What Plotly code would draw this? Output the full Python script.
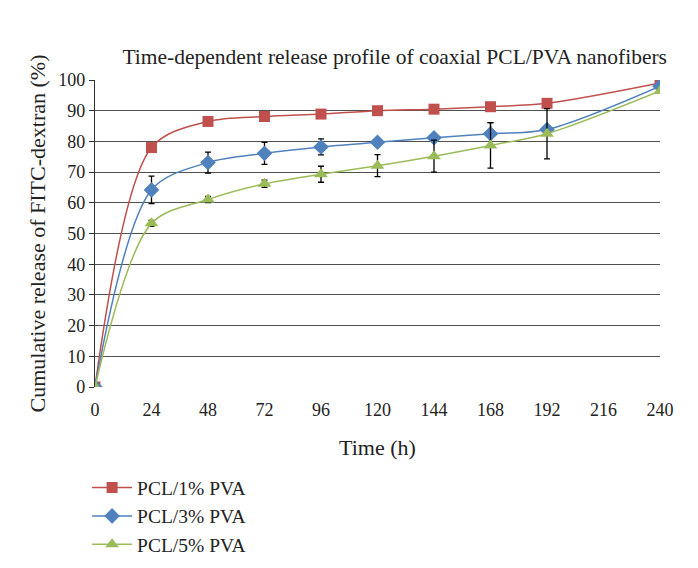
import plotly.graph_objects as go

time_h = [0, 24, 48, 72, 96, 120, 144, 168, 192, 240]
pcl_1 = [0, 78.0, 86.5, 88.1, 88.9, 90.0, 90.5, 91.3, 92.4, 99.0]
pcl_3 = [0, 64.2, 73.1, 76.1, 78.2, 79.7, 81.2, 82.5, 83.9, 98.0]
pcl_5 = [0, 53.3, 61.1, 66.2, 69.3, 72.1, 75.2, 78.7, 82.5, 96.4]
err_1 = [0, 1.2, 1.0, 1.5, 1.0, 0.8, 0.8, 0.8, 0.8, 0.5]
err_3 = [0, 4.5, 3.4, 3.6, 2.6, 1.0, 1.0, 3.6, 1.0, 0.5]
err_5 = [0, 1.0, 1.0, 1.2, 2.6, 3.6, 5.2, 7.4, 8.2, 0.5]
names = ["PCL/1% PVA", "PCL/3% PVA", "PCL/5% PVA"]
x_ticks = [0, 24, 48, 72, 96, 120, 144, 168, 192, 216, 240]

colors = ["#C0504D", "#4F81BD", "#9BBB59"]
symbols = ["square", "diamond", "triangle-up"]
sizes = [11, 12, 12]
FONT = "Liberation Serif"

fig = go.Figure()
for name, ys, errs, col, sym, sz in zip(names, [pcl_1, pcl_3, pcl_5], [err_1, err_3, err_5], colors, symbols, sizes):
    fig.add_trace(go.Scatter(
        x=time_h, y=ys, name=name, mode="lines+markers",
        line=dict(color=col, width=1.5, shape="spline", smoothing=0.9),
        marker=dict(symbol=sym, size=sz, color=col),
        error_y=dict(type="data", array=errs, visible=True, color="black", thickness=1.3, width=3),
        legendgroup=name,
    ))

fig.update_layout(
    width=698, height=568,
    paper_bgcolor="white", plot_bgcolor="white",
    margin=dict(l=87, r=46, t=72, b=184),
    font=dict(family=FONT, size=18, color="#222"),
    title=dict(text="Time-dependent release profile of coaxial PCL/PVA nanofibers",
               x=0.554, xanchor="center", y=1 - 48 / 568, yanchor="middle",
               font=dict(family=FONT, size=21.5, color="#222")),
    showlegend=True,
    legend=dict(x=-0.014, y=-0.265, xanchor="left", yanchor="top",
                font=dict(family=FONT, size=19.5, color="#222"),
                tracegroupgap=0, itemwidth=40, bgcolor="rgba(0,0,0,0)"),
    xaxis=dict(range=[0, 240], tickvals=x_ticks, showgrid=False, zeroline=False,
               showline=False, ticks="", ticklabelstandoff=10,
               title=dict(text="Time (h)", font=dict(family=FONT, size=22), standoff=20)),
    yaxis=dict(range=[0, 100], dtick=10, showgrid=True, gridcolor="#505050", gridwidth=1.4,
               zeroline=False, showline=True, linecolor="#303030", linewidth=1.4,
               ticks="outside", ticklen=5, tickcolor="#303030", tickwidth=1.4,
               title=dict(text="Cumulative release of FITC-dextran (%)", font=dict(family=FONT, size=22), standoff=6)),
)
fig.write_html("out.html")
